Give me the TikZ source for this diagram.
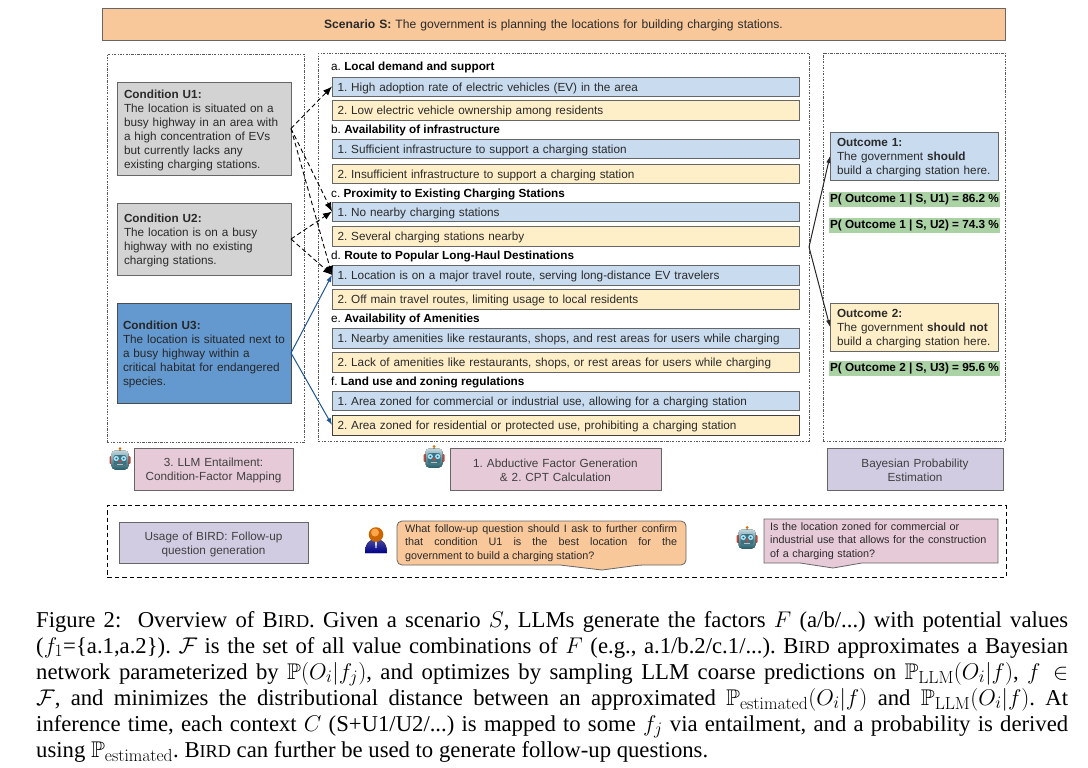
\RequirePackage{fix-cm}
\documentclass[tikz,border=0pt]{standalone}
\usepackage{amssymb}
\usepackage[no-math]{fontspec}
\setmainfont{Liberation Serif}
\newfontfamily\arialf{Liberation Sans}
\usetikzlibrary{arrows.meta}
\DeclareMathSizes{22.7}{22.7}{17.5}{12.5}
\frenchspacing
\definecolor{cscen}{HTML}{F8C79A}
\definecolor{cblue}{HTML}{C8DBEF}
\definecolor{cyel}{HTML}{FFEFC8}
\definecolor{cgrey}{HTML}{D3D3D3}
\definecolor{cu}{HTML}{6499D0}
\definecolor{cpink}{HTML}{E7CAD7}
\definecolor{cpur}{HTML}{D2CCE3}
\definecolor{cgreen}{HTML}{ABD2A5}
\definecolor{cedge}{HTML}{666666}
\definecolor{carrow}{HTML}{1F5596}
\definecolor{ctxt}{HTML}{2A2A2A}
\definecolor{rtop}{HTML}{BFD6DC}
\definecolor{rbot}{HTML}{24606E}
\definecolor{rface}{HTML}{3C7280}
\definecolor{rear}{HTML}{C0483C}
\tikzset{
  x=1pt,y=-1pt,
  sans/.style={font=\arialf\fontsize{11.75}{14}\selectfont,text=ctxt},
  solidbox/.style={draw=cedge,line width=0.9pt,fill=#1,sans,align=left},
  centbox/.style={solidbox=#1,align=center,text=black!75},
  framebox/.style={draw=black!65,line width=0.5pt,dash pattern=on 2.4pt off 1.4pt on 0.7pt off 1.4pt},
  headtext/.style={sans,text=black,anchor=west,inner sep=0pt},
  probtext/.style={fill=cgreen,sans,text=black,font=\arialf\bfseries\fontsize{11.75}{14}\selectfont,inner sep=0pt,align=center},
  dasharrow/.style={-{Latex[length=9pt,width=7pt]},black,line width=0.9pt,dash pattern=on 4.5pt off 3pt},
  bluearrow/.style={-{Latex[length=7pt,width=5pt]},carrow,line width=1pt},
  blackarrow/.style={-{Latex[length=7pt,width=4.5pt]},black!85,line width=1pt},
  bubble/.style={draw=cedge,line width=0.8pt,fill=#1},
  bubbletext/.style={font=\arialf\fontsize{10.8}{13.3}\selectfont,text=ctxt,inner sep=0pt,anchor=north west,align=justify},
}
\def\bxpad{7}
% box node, then its text as a second node, a little lower than the centre
\newcommand\bx[8][]{\node[#2,inner xsep=\bxpad pt,inner ysep=0pt,outer sep=0pt,
  text width={(#6-#4-2*\bxpad)*1pt},minimum height={(#7-#5)*1pt},#1] (#3) at ({(#4+#6)/2},{(#5+#7)/2}) {};
  \node[#2,inner xsep=\bxpad pt,inner ysep=0pt,outer sep=0pt,
  text width={(#6-#4-2*\bxpad)*1pt},#1,draw=none,fill=none,yshift=-1.6pt] (#3-t) at ({(#4+#6)/2},{(#5+#7)/2}) {#8}}
\newcommand\robotat[2]{%
 \begin{scope}[shift={(#1,#2)}]
  \fill[orange!85!black] (0,-11.5) circle (1.5);
  \fill[black!45] (-1,-10.5) rectangle (1,-9);
  \fill[rear,rounded corners=1pt] (-10.5,-4) rectangle (-7,4);
  \fill[rear,rounded corners=1pt] (7,-4) rectangle (10.5,4);
  \fill[rounded corners=3.5pt,top color=rtop,bottom color=rbot] (-8.5,-9.5) rectangle (8.5,9.5);
  \fill[rounded corners=2.5pt,rface] (-6.5,-5) rectangle (6.5,5.5);
  \fill[cyan!35] (-3.7,-1.5) circle (2.6);
  \fill[cyan!35] (3.7,-1.5) circle (2.6);
  \fill[rbot] (-3.7,-1.5) circle (1);
  \fill[rbot] (3.7,-1.5) circle (1);
  \fill[rear] (0,1.2) circle (1.7);
  \fill[black!25] (-3,3.6) rectangle (3,4.8);
 \end{scope}}
\newcommand\bird{B{\fontsize{18.2}{20}\selectfont IRD}}
\begin{document}
\begin{tikzpicture}
\useasboundingbox (0,0) rectangle (1088,768);
% scenario
\bx[align=center,font=\arialf\fontsize{12.1}{14}\selectfont]{solidbox=cscen}{scen}{102}{8}{1005}{40}{\textbf{Scenario S:} The government is planning the locations for building charging stations.};
% frames
\bx{framebox}{leftf}{107}{54}{304}{442}{};
\bx{framebox}{midf}{318}{53}{809}{441}{};
\bx{framebox}{rightf}{823}{53}{1005.5}{441}{};
% conditions
\bx{solidbox=cgrey}{u1}{117}{82}{291}{175}{\textbf{Condition U1:}\\The location is situated on a\\busy highway in an area with\\a high concentration of EVs\\but currently lacks any\\existing charging stations.};
\bx{solidbox=cgrey}{u2}{117}{203}{291}{275}{\textbf{Condition U2:}\\The location is on a busy\\highway with no existing\\charging stations.};
\bx[draw=black!70,text=black!85,inner xsep=6pt,text width=162pt]{solidbox=cu}{u3}{117}{303}{291}{403}{\textbf{Condition U3:}\\The location is situated next to\\a busy highway within a\\critical habitat for endangered\\species.};
% factors
\node[headtext] (ha) at (331,67) {a. \textbf{Local demand and support}};
\node[headtext] (hb) at (331,130) {b. \textbf{Availability of infrastructure}};
\node[headtext] (hc) at (331,194) {c. \textbf{Proximity to Existing Charging Stations}};
\node[headtext] (hd) at (331,256) {d. \textbf{Route to Popular Long-Haul Destinations}};
\node[headtext] (he) at (331,319) {e. \textbf{Availability of Amenities}};
\node[headtext] (hf) at (331,382) {f. \textbf{Land use and zoning regulations}};
\def\bxpad{5.5}
\bx{solidbox=cblue}{a1}{332}{77}{799}{96}{1. High adoption rate of electric vehicles (EV) in the area};
\bx{solidbox=cyel}{a2}{332}{100}{799}{120}{2. Low electric vehicle ownership among residents};
\bx{solidbox=cblue}{b1}{332}{139}{799}{158}{1. Sufficient infrastructure to support a charging station};
\bx{solidbox=cyel}{b2}{332}{164}{799}{183}{2. Insufficient infrastructure to support a charging station};
\bx{solidbox=cblue}{c1}{332}{202}{799}{221}{1. No nearby charging stations};
\bx{solidbox=cyel}{c2}{332}{226}{799}{246}{2. Several charging stations nearby};
\bx{solidbox=cblue}{d1}{332}{265}{799}{285}{1. Location is on a major travel route, serving long-distance EV travelers};
\bx{solidbox=cyel}{d2}{332}{289}{799}{309}{2. Off main travel routes, limiting usage to local residents};
\bx{solidbox=cblue}{e1}{332}{328}{799}{348}{1. Nearby amenities like restaurants, shops, and rest areas for users while charging};
\bx{solidbox=cyel}{e2}{332}{352}{799}{372}{2. Lack of amenities like restaurants, shops, or rest areas for users while charging};
\bx{solidbox=cblue}{f1}{332}{391}{799}{410}{1. Area zoned for commercial or industrial use, allowing for a charging station};
\bx[draw=black!75]{solidbox=cyel}{f2}{332}{415}{799}{435}{2. Area zoned for residential or protected use, prohibiting a charging station};
\def\bxpad{7}
% outcomes
\bx{solidbox=cblue}{o1}{830}{132}{998}{180}{\textbf{Outcome 1:}\\The government \textbf{should}\\build a charging station here.};
\bx{solidbox=cyel}{o2}{830}{303}{998}{351}{\textbf{Outcome 2:}\\The government \textbf{should not}\\build a charging station here.};
\node[probtext,minimum width=171pt,minimum height=15pt] (p1) at (914.5,199.5) {P( Outcome 1 | S, U1) = 86.2 \%};
\node[probtext,minimum width=171pt,minimum height=15pt] (p2) at (914.5,225.5) {P( Outcome 1 | S, U2) = 74.3 \%};
\node[probtext,minimum width=171pt,minimum height=15pt] (p3) at (914.5,368.5) {P( Outcome 2 | S, U3) = 95.6 \%};
% step labels
\bx{centbox=cpink}{s3}{134}{448}{293}{490}{3. LLM Entailment:\\Condition-Factor Mapping};
\bx{centbox=cpink}{s1}{450}{448}{661}{490}{1. Abductive Factor Generation\\\& 2. CPT Calculation};
\bx{centbox=cpur}{s4}{827}{448}{1003}{490}{Bayesian Probability\\Estimation};
\robotat{120}{460}
\robotat{434}{458}
% bottom
\bx[draw=black,line width=0.9pt,dash pattern=on 4.5pt off 3pt]{draw}{usagef}{107}{505}{1006}{577}{};
\bx{centbox=cpur}{usage}{119}{522}{308}{563}{Usage of BIRD: Follow-up\\question generation};
% person
\fill[top color=blue!40!black!70!white,bottom color=blue!55!black] (365,553) .. controls (365,543) and (370,539) .. (376,539) .. controls (382,539) and (387,543) .. (387,553) -- cycle;
\fill[white!85!blue] (375,541) -- (377,541) -- (376.6,548) -- (375.4,548) -- cycle;
\fill[orange!80!black] (376,534.5) circle (7.3);
\fill[orange!70!white] (375,532.5) circle (4);
% bubbles
\draw[bubble=cscen,rounded corners=5pt] (397,521) -- (686,521) -- (686,565) -- (640,565) [sharp corners] -- (602,570) -- (560,565) [rounded corners=5pt] -- (397,565) -- cycle;
\node[bubbletext,text width=272pt] (q1) at (405,524.5) {What follow-up question should I ask to further confirm\linebreak that condition U1 is the best location for the\linebreak government to build a charging station?};
\draw[bubble=cpink] (764,519) -- (998,519) -- (998,563) -- (862,563) -- (833,568) -- (800,563) -- (764,563) -- cycle;
\node[bubbletext,text width=226pt,align=left] (q2) at (770,522.5) {Is the location zoned for commercial or\\industrial use that allows for the construction\\of a charging station?};
\robotat{747}{539}
% connectors
\draw[dasharrow] (u1.east) -- (a1.west);
\draw[dasharrow] (u1.east) -- (c1.west);
\draw[dasharrow] (u1.east) -- (d1.west);
\draw[dasharrow] (u2.east) -- (c1.west);
\draw[dasharrow] (u2.east) -- (d1.west);
\draw[bluearrow] (u3.east) -- (d1.west);
\draw[bluearrow] (u3.east) -- (f2.west);
\draw[blackarrow] (midf.east) -- (o1.west);
\draw[blackarrow] (midf.east) -- (o2.west);
% caption
\node[anchor=north west,inner sep=0pt,text width=1032pt,align=justify,font=\fontsize{22.7}{26}\selectfont] (cap) at (36,611)
{Figure 2:\ \ Overview of \bird. Given a scenario $S$, LLMs generate the factors $F$ (a/b/...) with potential values\linebreak
($f_1$=\{a.1,a.2\}). $\mathcal{F}$ is the set of all value combinations of $F$ (e.g., a.1/b.2/c.1/...). \bird\ approximates a Bayesian\linebreak
network parameterized by $\mathbb{P}(O_i|f_j)$, and optimizes by sampling LLM coarse predictions on $\mathbb{P}_{\mathrm{LLM}}(O_i|f)$, $f\in$\linebreak
$\mathcal{F}$, and minimizes the distributional distance between an approximated $\mathbb{P}_{\mathrm{estimated}}(O_i|f)$ and $\mathbb{P}_{\mathrm{LLM}}(O_i|f)$. At\linebreak
inference time, each context $C$ (S+U1/U2/...) is mapped to some $f_j$ via entailment, and a probability is derived\linebreak
using $\mathbb{P}_{\mathrm{estimated}}$. \bird\ can further be used to generate follow-up questions.};
\end{tikzpicture}
\end{document}
